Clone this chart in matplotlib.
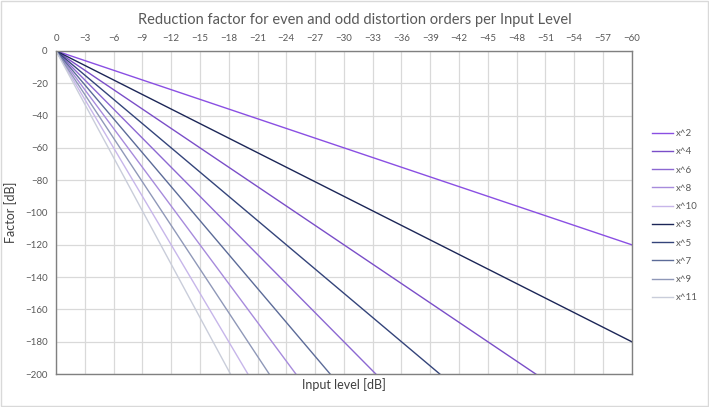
import matplotlib
matplotlib.use('Agg')
import matplotlib.pyplot as plt
from matplotlib.patches import Rectangle

plt.rcParams['font.family'] = ['Lato', 'DejaVu Sans']

# input level range (dB) and factor at both ends of the range (dB)
input_level = [0, -60]
labels = ['x^2', 'x^4', 'x^6', 'x^8', 'x^10', 'x^3', 'x^5', 'x^7', 'x^9', 'x^11']
factor = {
    'x^2': [0, -120],
    'x^4': [0, -240],
    'x^6': [0, -360],
    'x^8': [0, -480],
    'x^10': [0, -600],
    'x^3': [0, -180],
    'x^5': [0, -300],
    'x^7': [0, -420],
    'x^9': [0, -540],
    'x^11': [0, -660],
}
colors = ['#8a4fe3', '#7a4ec8', '#8c68d2', '#a78bdc', '#c7b6ea',
          '#1c2657', '#34447a', '#5c6b98', '#8f98b8', '#c9cdda']

fig = plt.figure(figsize=(7.09, 4.07), dpi=100)
ax = fig.add_axes([0.079, 0.081, 0.812, 0.794])

for lab, c in zip(labels, colors):
    ax.plot(input_level, factor[lab], color=c, linewidth=1.0, label=lab)

ax.set_xlim(0, -60)
ax.set_ylim(-200, 0)
ax.set_xticks(range(0, -61, -3))
ax.set_yticks(range(0, -201, -20))
ax.xaxis.tick_top()
ax.tick_params(length=0, labelsize=7, colors='#595959', pad=6)
ax.grid(True, color='#d9d9d9', linewidth=0.9)
ax.set_axisbelow(True)
for s in ax.spines.values():
    s.set_color('#808080')
    s.set_linewidth(1.0)

ax.set_xlabel('Input level [dB]', fontsize=9, color='#404040', labelpad=3)
ax.set_ylabel('Factor [dB]', fontsize=9, color='#404040', labelpad=6)
fig.text(0.5, 0.952, 'Reduction factor for even and odd distortion orders per Input Level',
         ha='center', va='center', fontsize=10.5, color='#595959')

leg = ax.legend(loc='center left', bbox_to_anchor=(1.02, 0.49), frameon=False,
                fontsize=7, handlelength=2.2, handletextpad=0.3, labelspacing=0.95)
for t in leg.get_texts():
    t.set_color('#595959')

fig.patches.append(Rectangle((0.001, 0.002), 0.997, 0.995, transform=fig.transFigure,
                             fill=False, edgecolor='#d9d9d9', linewidth=1))

fig.savefig('out.png', dpi=100)
